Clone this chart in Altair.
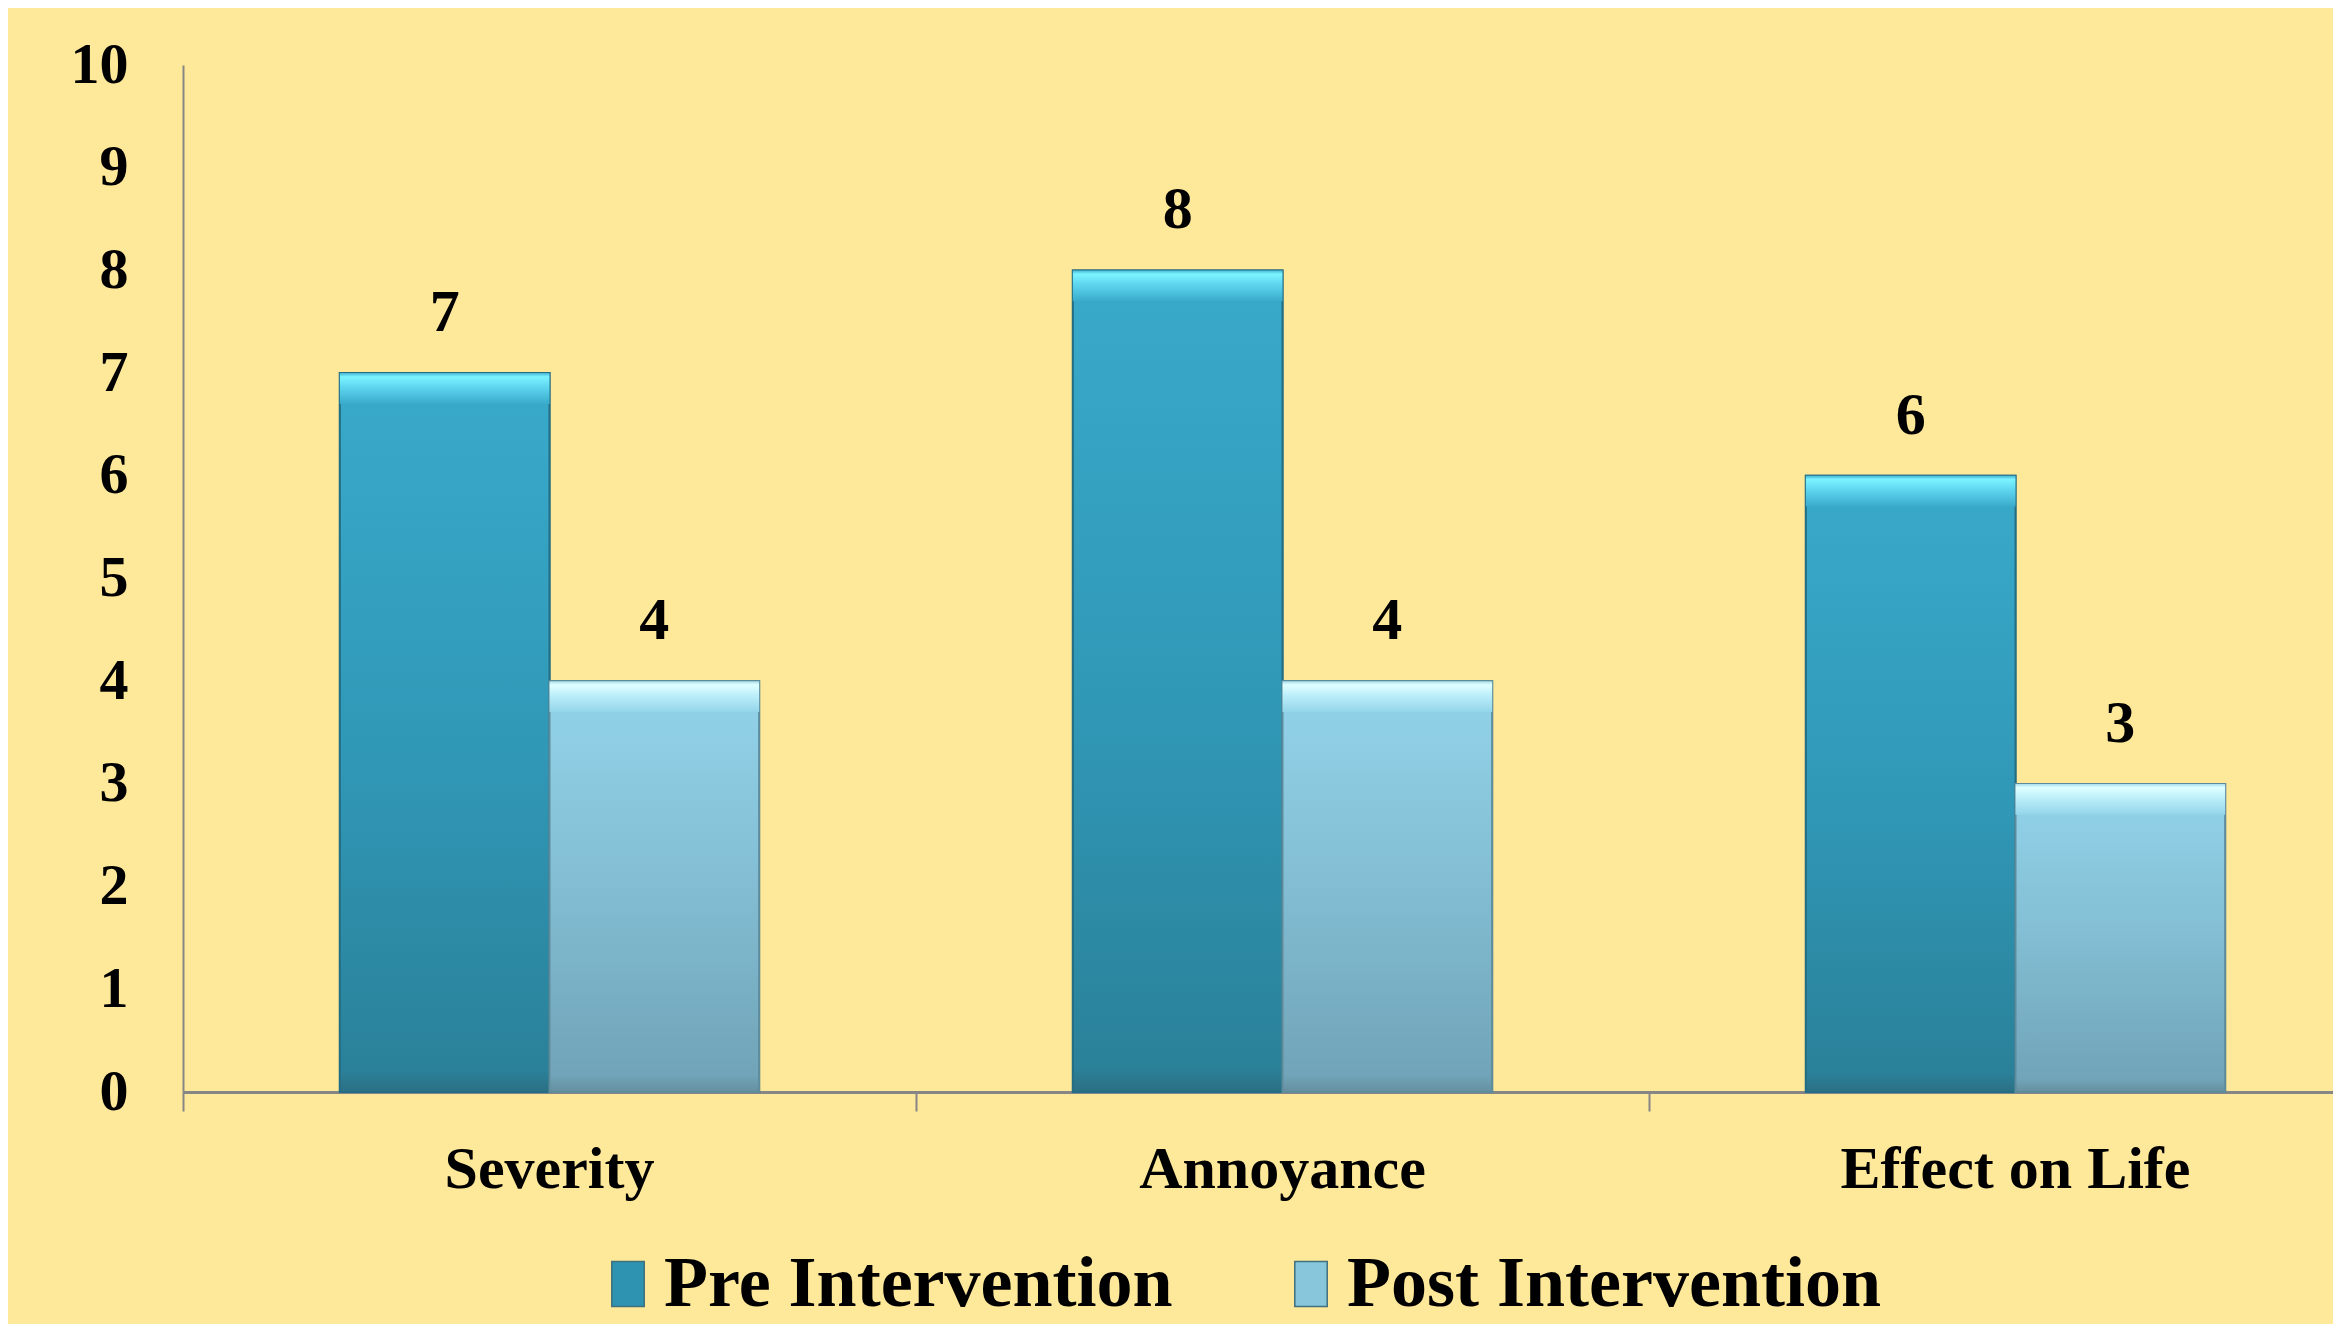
import altair as alt
import pandas as pd

categories = ["Severity", "Annoyance", "Effect on Life"]
series = ["Pre Intervention", "Post Intervention"]
pre_values = [7, 8, 6]
post_values = [4, 4, 3]
y_ticks = [0, 1, 2, 3, 4, 5, 6, 7, 8, 9, 10]

rows = []
for c, a, b in zip(categories, pre_values, post_values):
    rows.append({"category": c, "series": series[0], "value": a})
    rows.append({"category": c, "series": series[1], "value": b})
df = pd.DataFrame(rows)

FONT = "Liberation Serif"
GREY = "#868686"

x_enc = alt.X(
    "category:N",
    sort=categories,
    scale=alt.Scale(range=[0, 2199], paddingInner=0.428, paddingOuter=0.214),
    axis=alt.Axis(
        title=None, bandPosition=-0.374, labelAngle=0,
        labelFont=FONT, labelFontSize=60, labelFontWeight="bold", labelColor="black",
        labelBaseline="alphabetic", labelPadding=76, labelLimit=0, labelOverlap=False,
        labelAlign="center",
        tickSize=19, tickColor=GREY, tickWidth=2,
        domainColor=GREY, domainWidth=3, grid=False,
    ),
)
xo_enc = alt.XOffset("series:N", sort=series, scale=alt.Scale(domain=series))
y_enc = alt.Y(
    "value:Q",
    scale=alt.Scale(domain=[0, 10], nice=False),
    axis=alt.Axis(
        title=None, values=y_ticks, ticks=False, labelPadding=55,
        labelFont=FONT, labelFontSize=58, labelFontWeight="bold", labelColor="black",
        domainColor=GREY, domainWidth=2, grid=False,
    ),
)

base = alt.Chart(df)

bars = base.mark_bar(stroke="#2A6F84", strokeWidth=2).encode(
    x=x_enc, xOffset=xo_enc, y=y_enc,
    color=alt.Color(
        "series:N", sort=series,
        scale=alt.Scale(domain=series, range=["#2E93B0", "#88C6DC"]),
        legend=alt.Legend(
            title=None, orient="none", legendX=409, legendY=1183,
            direction="horizontal", columns=2, padding=0,
            labelFont=FONT, labelFontSize=72, labelFontWeight="bold", labelColor="black",
            symbolType="M-0.72,-1H0.72V1H-0.72Z", symbolSize=2025,
            symbolStrokeColor="#3d6f7e", symbolStrokeWidth=1.5,
            labelOffset=0, columnPadding=102, labelLimit=0,
        ),
    ),
)

pre_grad = {"gradient": "linear", "x1": 0, "y1": 0, "x2": 0, "y2": 1,
            "stops": [{"offset": 0, "color": "#39AACB"},
                      {"offset": 0.55, "color": "#3097B6"},
                      {"offset": 0.97, "color": "#2A8199"},
                      {"offset": 1, "color": "#2C6F84"}]}
post_grad = {"gradient": "linear", "x1": 0, "y1": 0, "x2": 0, "y2": 1,
             "stops": [{"offset": 0, "color": "#93D4EA"},
                       {"offset": 0.5, "color": "#82BDD3"},
                       {"offset": 0.96, "color": "#71A4B8"},
                       {"offset": 1, "color": "#658FA0"}]}
pre_hi = {"gradient": "linear", "x1": 0, "y1": 0, "x2": 0, "y2": 1,
          "stops": [{"offset": 0, "color": "#47B7D7"},
                    {"offset": 0.12, "color": "#7CF4FF"},
                    {"offset": 0.45, "color": "#5FD6F0"},
                    {"offset": 1, "color": "#3AABCB"}]}
post_hi = {"gradient": "linear", "x1": 0, "y1": 0, "x2": 0, "y2": 1,
           "stops": [{"offset": 0, "color": "#A8DDEC"},
                     {"offset": 0.12, "color": "#E0FFFF"},
                     {"offset": 0.45, "color": "#BDEFFA"},
                     {"offset": 1, "color": "#94D5EA"}]}

pre_body = base.transform_filter(alt.datum.series == series[0]).mark_bar(
    fill=pre_grad, stroke="#236E84", strokeWidth=2
).encode(x=x_enc, xOffset=xo_enc, y=y_enc)
post_body = base.transform_filter(alt.datum.series == series[1]).mark_bar(
    fill=post_grad, stroke="#5E8C9C", strokeWidth=2
).encode(x=x_enc, xOffset=xo_enc, y=y_enc)

pre_top = base.transform_filter(alt.datum.series == series[0]).transform_calculate(
    top2="datum.value - 0.3"
).mark_bar(fill=pre_hi, strokeWidth=0).encode(
    x=x_enc, xOffset=xo_enc, y=y_enc, y2="top2:Q"
)
post_top = base.transform_filter(alt.datum.series == series[1]).transform_calculate(
    top2="datum.value - 0.3"
).mark_bar(fill=post_hi, strokeWidth=0).encode(
    x=x_enc, xOffset=xo_enc, y=y_enc, y2="top2:Q"
)

labels = base.mark_text(
    font=FONT, fontSize=60, fontWeight="bold", color="black",
    baseline="alphabetic", dy=-42,
).encode(x=x_enc, xOffset=xo_enc, y=y_enc, text="value:Q")

chart = alt.layer(bars, pre_body, post_body, pre_top, post_top, labels).properties(
    width=2150, height=1027,
    autosize=alt.AutoSizeParams(type="none"),
    padding={"left": 175, "top": 57, "right": 0, "bottom": 232},
    background="#FEE899",
).configure_view(stroke=None)

chart.save("out.html", embed_options={"renderer": "svg", "actions": False})
